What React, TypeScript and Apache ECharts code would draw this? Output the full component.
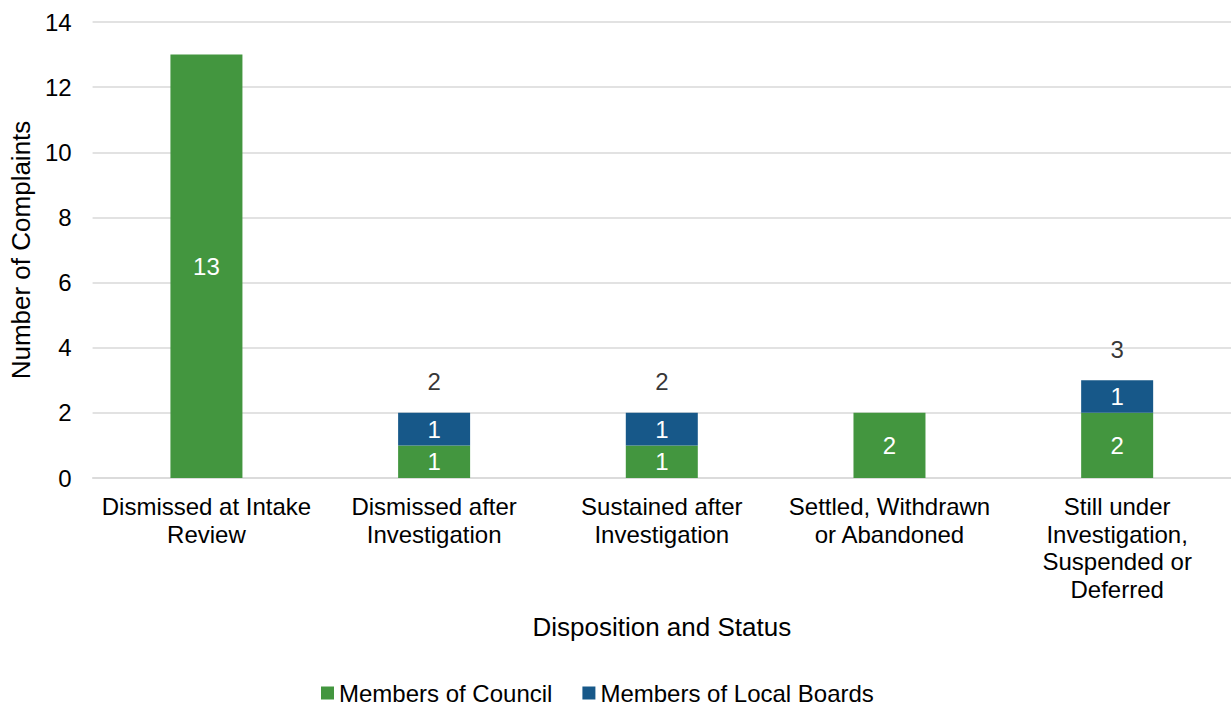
import React, { useEffect, useRef } from "react";
import * as echarts from "echarts";

const categories = [
  "Dismissed at Intake\nReview",
  "Dismissed after\nInvestigation",
  "Sustained after\nInvestigation",
  "Settled, Withdrawn\nor Abandoned",
  "Still under\nInvestigation,\nSuspended or\nDeferred",
];
const councilValues = [13, 1, 1, 2, 2];
const localBoardValues = [0, 1, 1, 0, 1];
const totalLabels: (number | null)[] = [null, 2, 2, null, 3];
const yTicks = { min: 0, max: 14, interval: 2 };

const FONT = "'Liberation Sans', Arial, sans-serif";
const GREEN = "#43963f";
const BLUE = "#175889";

export default function App() {
  const ref = useRef<HTMLDivElement>(null);
  useEffect(() => {
    if (!ref.current) return;
    const chart = echarts.init(ref.current, undefined, { renderer: "svg" });
    chart.setOption({
      animation: false,
      textStyle: { fontFamily: FONT },
      grid: { left: 91, right: 0, top: 22, bottom: 231, containLabel: false },
      legend: {
        top: 677,
        left: 316,
        padding: [4, 5, 4, 5],
        itemWidth: 13,
        itemHeight: 13,
        itemGap: 30,
        icon: "rect",
        textStyle: { fontFamily: FONT, fontSize: 24, color: "#000" },
        data: ["Members of Council", "Members of Local Boards"],
      },
      xAxis: {
        type: "category",
        data: categories,
        name: "Disposition and Status",
        nameLocation: "middle",
        nameGap: 136,
        nameTextStyle: { fontFamily: FONT, fontSize: 26, color: "#000" },
        axisLine: { lineStyle: { color: "#d9d9d9", width: 1.5 } },
        axisTick: { show: false },
        axisLabel: {
          fontFamily: FONT,
          fontSize: 24,
          color: "#000",
          lineHeight: 27.5,
          margin: 15,
          interval: 0,
        },
      },
      yAxis: {
        type: "value",
        min: yTicks.min,
        max: yTicks.max,
        interval: yTicks.interval,
        name: "Number of Complaints",
        nameLocation: "middle",
        nameGap: 56,
        nameTextStyle: { fontFamily: FONT, fontSize: 26, color: "#000" },
        axisLine: { show: false },
        axisTick: { show: false },
        axisLabel: { fontFamily: FONT, fontSize: 24, color: "#000", margin: 21 },
        splitLine: { lineStyle: { color: "#d9d9d9", width: 1.5 } },
      },
      series: [
        {
          name: "Members of Council",
          type: "bar",
          stack: "total",
          barWidth: 72,
          itemStyle: { color: GREEN },
          label: {
            show: true,
            position: "inside",
            color: "#fff",
            fontFamily: FONT,
            fontSize: 24,
            formatter: (p: any) => (p.value ? String(p.value) : ""),
          },
          data: councilValues,
        },
        {
          name: "Members of Local Boards",
          type: "bar",
          stack: "total",
          barWidth: 72,
          itemStyle: { color: BLUE },
          label: {
            show: true,
            position: "inside",
            color: "#fff",
            fontFamily: FONT,
            fontSize: 24,
            formatter: (p: any) => (p.value ? String(p.value) : ""),
          },
          data: localBoardValues,
        },
        {
          name: "Total",
          type: "scatter",
          symbolSize: 0,
          silent: true,
          label: {
            show: true,
            position: "top",
            distance: 19,
            color: "#000",
            fontFamily: FONT,
            fontSize: 24,
            formatter: (p: any) => String(p.value),
          },
          data: totalLabels.map((v) => (v == null ? "-" : v)),
        },
      ],
    });
    return () => chart.dispose();
  }, []);
  return (
    <div
      ref={ref}
      style={{ position: "fixed", left: 0, top: 0, width: 1231, height: 709, background: "#fff" }}
    />
  );
}
